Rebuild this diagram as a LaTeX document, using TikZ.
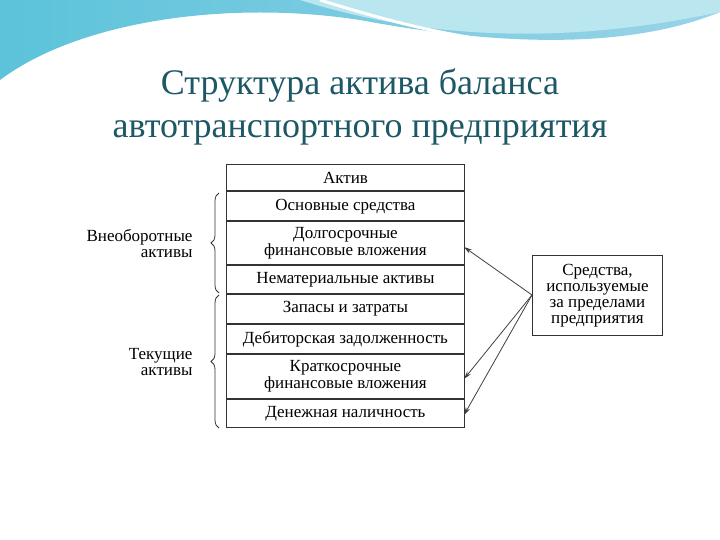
\documentclass[tikz,border=0pt]{standalone}
\usepackage{fontspec}
\setmainfont{Liberation Serif}
\usetikzlibrary{decorations.pathreplacing,arrows.meta}
\definecolor{ttl}{HTML}{1D5866}
\definecolor{wv1}{HTML}{5BC3DA}
\definecolor{wv2}{HTML}{9AD3E8}
\definecolor{wv3}{HTML}{B9E6EF}
\begin{document}
\begin{tikzpicture}[x=1pt,y=-1pt,
  cell/.style={draw=black!80,line width=0.9pt,minimum width=238pt,inner sep=0pt,align=center,font=\fontsize{17}{17}\selectfont},
  lbl/.style={align=right,font=\fontsize{17}{16}\selectfont,anchor=east},
  arr/.style={-{Stealth[length=8pt,width=4.5pt]},black!75,line width=0.8pt},
  brc/.style={decorate,decoration={brace,amplitude=8pt},line width=0.8pt,black!80}]
\useasboundingbox (0,0) rectangle (720,540);
\fill[white] (0,0) rectangle (720,540);
% wave
\shade[left color=wv1,right color=wv2] (0,0)--(720,0)--(720,12) .. controls (640,45) and (520,50) .. (360,20) .. controls (230,0) and (80,20) .. (0,80)--cycle;
\fill[wv3] (300,0) .. controls (380,25) and (520,55) .. (720,12) -- (720,0) -- cycle;
\draw[white,line width=3pt] (320,0) .. controls (400,25) and (480,45) .. (560,45);
% title
\node[text=ttl,font=\fontsize{36}{43}\selectfont,align=center] (title) at (360,107) {Структура актива баланса\\автотранспортного предприятия};
% table
\node[cell,minimum height=26pt,anchor=north west] (r1) at (226,164.5) {Актив};
\node[cell,minimum height=29pt,anchor=north] (r2) at (r1.south) {Основные средства};
\node[cell,minimum height=43pt,anchor=north] (r3) at (r2.south) {Долгосрочные\\финансовые вложения};
\node[cell,minimum height=28pt,anchor=north] (r4) at (r3.south) {Нематериальные активы};
\node[cell,minimum height=29pt,anchor=north] (r5) at (r4.south) {Запасы и затраты};
\node[cell,minimum height=29pt,anchor=north] (r6) at (r5.south) {Дебиторская задолженность};
\node[cell,minimum height=44pt,anchor=north] (r7) at (r6.south) {Краткосрочные\\финансовые вложения};
\node[cell,minimum height=28pt,anchor=north] (r8) at (r7.south) {Денежная наличность};
% braces
\coordinate (b1a) at (219,293); \coordinate (b1b) at (219,193);
\coordinate (b2a) at (219,428); \coordinate (b2b) at (219,295);
\draw[brc] (b1a) -- (b1b);
\draw[brc] (b2a) -- (b2b);
\node[lbl] (l1) at (196,243) {Внеоборотные\\активы};
\node[lbl] (l2) at (196,362) {Текущие\\активы};
% right box
\node[draw=black!80,line width=0.9pt,minimum width=130pt,minimum height=80pt,align=center,font=\fontsize{17}{16}\selectfont,anchor=north west] (sb) at (532,255) {Средства,\\используемые\\за пределами\\предприятия};
\coordinate (src) at (532,295);
\coordinate (t1) at (464,247);
\coordinate (t2) at (464,379);
\coordinate (t3) at (464,415);
\draw[arr] (src) -- (t1);
\draw[arr] (src) -- (t2);
\draw[arr] (src) -- (t3);
\end{tikzpicture}
\end{document}
